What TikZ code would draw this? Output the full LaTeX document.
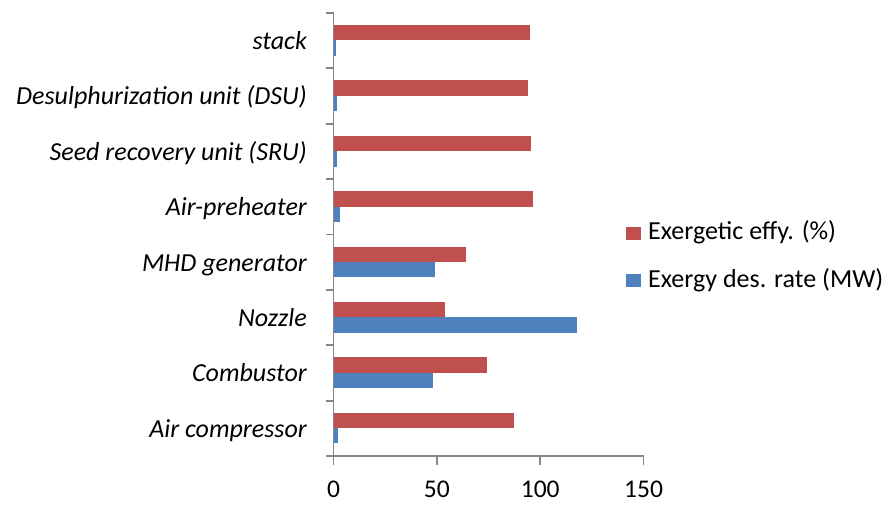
\documentclass[tikz,border=0pt]{standalone}
\usepackage{fontspec}
\setmainfont{Carlito}
\definecolor{effred}{HTML}{C0504D}
\definecolor{desblue}{HTML}{4F81BD}
\definecolor{axisgray}{HTML}{868686}
\begin{document}
\begin{tikzpicture}[x=1pt,y=-1pt,
  axisline/.style={draw=axisgray,line width=1.8pt},
  catlabel/.style={anchor=base east,inner sep=0pt,font=\fontsize{26}{30}\selectfont\itshape},
  ticklabel/.style={anchor=base,inner sep=0pt,text depth=0pt,font=\fontsize{25.5}{30}\selectfont},
  legendtext/.style={anchor=base west,inner sep=0pt,font=\fontsize{26}{30}\selectfont},
  effbar/.style={fill=effred},
  desbar/.style={fill=desblue}]
\useasboundingbox (0,0) rectangle (890,504);
% origin of the value axis and pixels per unit
\def\xo{333.5}
\def\ux{2.067}
% bars and category labels, top to bottom
\foreach \i/\lab/\r/\b in {
  0/{stack}/95.2/1.3,
  1/{Desulphurization unit (DSU)}/94.3/1.8,
  2/{Seed recovery unit (SRU)}/95.6/1.5,
  3/{Air-preheater}/96.6/3.2,
  4/{MHD generator}/63.9/49.0,
  5/{Nozzle}/53.7/117.6,
  6/{Combustor}/74.2/48.2,
  7/{Air compressor}/87.1/2.0}{
  \pgfmathsetmacro\ctop{13+55.375*\i}
  \fill[effbar] (\xo,\ctop+12) rectangle ({\xo+\r*\ux},\ctop+27.4);
  \fill[desbar] (\xo,\ctop+27.4) rectangle ({\xo+\b*\ux},\ctop+42.8);
  \node[catlabel] (cat\i) at (307,\ctop+36.5) {\lab};
}
% category axis with its ticks
\draw[axisline] (\xo,13) -- (\xo,456);
\foreach \k in {0,...,7}{
  \draw[axisline] (326,{13+55.375*\k}) -- (\xo,{13+55.375*\k});
}
% value axis with its ticks and labels
\draw[axisline] (326,456) -- (643.5,456);
\foreach \v in {0,50,100,150}{
  \draw[axisline] ({\xo+\v*\ux},456) -- ({\xo+\v*\ux},465);
  \node[ticklabel] (tick\v) at ({\xo+\v*\ux},497.5) {\v};
}
% legend
\fill[effbar] (626,226.5) rectangle (640.5,239.5);
\node[legendtext] (legeff) at (648,239.5) {Exergetic effy. (\%)};
\fill[desbar] (626,274) rectangle (640.5,287);
\node[legendtext] (legdes) at (648,287.5) {Exergy des. rate (MW)};
\end{tikzpicture}
\end{document}
